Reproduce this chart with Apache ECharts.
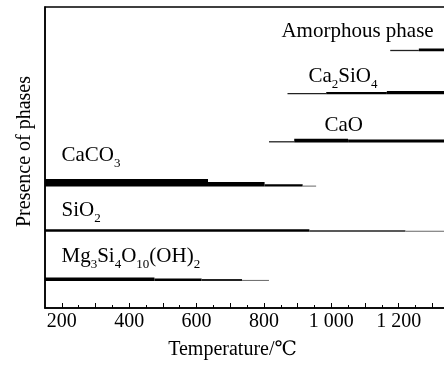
<!DOCTYPE html>
<html>
<head>
<meta charset="utf-8">
<script src="https://cdn.jsdelivr.net/npm/echarts@6/dist/echarts.min.js"></script>
<style>html,body{margin:0;padding:0;background:#fff}#c{width:444px;height:365px}</style>
</head>
<body>
<div id="c"></div>
<script>
// ---- data ----
const phases = ['Amorphous phase', 'Ca2SiO4', 'CaO', 'CaCO3', 'SiO2', 'Mg3Si4O10(OH)2'];
const phaseLabels = ['Amorphous phase', 'Ca{s|2}SiO{s|4}', 'CaO', 'CaCO{s|3}', 'SiO{s|2}', 'Mg{s|3}Si{s|4}O{s|10}(OH){s|2}'];
const rowLevel = [25.6, 21.3, 16.5, 12.1, 7.6, 2.7];
// segments: [start °C, end °C, relative amount]
const amorphousSeg = [[1175, 1260, 1.3], [1260, 1400, 2.6]];
const ca2sio4Seg = [[870, 985, 1.2], [985, 1165, 2.2], [1165, 1400, 3.2]];
const caoSeg = [[815, 890, 1.3], [890, 1050, 3.6], [1050, 1400, 3.0]];
const caco3Seg = [[150, 634, 7.6], [634, 802, 4.5], [802, 915, 2.4], [915, 955, 1.0]];
const sio2Seg = [[150, 935, 2.6], [935, 1220, 1.6], [1220, 1400, 1.0]];
const talcSeg = [[150, 475, 3.3], [475, 615, 2.4], [615, 735, 1.8], [735, 815, 1.0]];
const segments = [amorphousSeg, ca2sio4Seg, caoSeg, caco3Seg, sio2Seg, talcSeg];
const labelAnchorT = [852, 932, 980, 199, 199, 199];
const labelAnchorLevel = [27.6, 23.1, 18.2, 15.2, 9.7, 5.1];
const majorTicks = [200, 300, 400, 500, 600, 700, 800, 900, 1000, 1100, 1200, 1300, 1400];
const minorTicks = [250, 350, 450, 550, 650, 750, 850, 950, 1050, 1150, 1250, 1350];
const tickLabels = [200, 400, 600, 800, 1000, 1200, 1400];

const FONT = "'Liberation Serif','Times New Roman','DejaVu Serif','Noto Sans CJK SC',serif";

const barData = [];
segments.forEach((segs, i) => segs.forEach(s => barData.push([s[0], s[1], rowLevel[i], s[2]])));
const labelData = phases.map((p, i) => [labelAnchorT[i], labelAnchorLevel[i], i]);

const chart = echarts.init(document.getElementById('c'), null, {renderer: 'canvas'});
chart.setOption({
  animation: false,
  backgroundColor: '#fff',
  grid: {left: 45, right: -22, top: 7, bottom: 57, show: true, borderColor: '#000', borderWidth: 1.5,
    containLabel: false, outerBoundsMode: 'none'},
  xAxis: [{
    type: 'value', min: 150, max: 1400, interval: 50, position: 'bottom',
    axisLine: {show: true, lineStyle: {color: '#000', width: 1.5}},
    axisTick: {show: true, inside: true, length: 5, customValues: majorTicks, lineStyle: {color: '#000', width: 1}},
    axisLabel: {show: true, customValues: tickLabels, margin: 4, color: '#000', fontFamily: FONT, fontSize: 20,
      formatter: v => (v % 200 !== 0) ? '' : (v >= 1000 ? Math.floor(v / 1000) + ' ' + String(v % 1000).padStart(3, '0') : String(v))},
    splitLine: {show: false},
    name: 'Temperature/℃', nameLocation: 'middle', nameGap: 32,
    nameTextStyle: {color: '#000', fontFamily: FONT, fontSize: 20, padding: [0, 46, 0, 0]}
  }, {
    type: 'value', min: 150, max: 1400, interval: 50, position: 'bottom',
    axisLine: {show: false},
    axisTick: {show: true, inside: true, length: 3, customValues: minorTicks, lineStyle: {color: '#000', width: 1}},
    axisLabel: {show: false}, splitLine: {show: false}
  }],
  yAxis: {
    type: 'value', min: 0, max: 30,
    axisLine: {show: true, lineStyle: {color: '#000', width: 1.5}},
    axisTick: {show: false}, axisLabel: {show: false}, splitLine: {show: false},
    name: 'Presence of phases', nameLocation: 'middle', nameGap: 10,
    nameTextStyle: {color: '#000', fontFamily: FONT, fontSize: 20, padding: [0, 0, 0, 12]}
  },
  series: [{
    type: 'custom', xAxisIndex: 0, yAxisIndex: 0,
    data: barData,
    encode: {x: [0, 1], y: 2},
    renderItem: function (params, api) {
      const p0 = api.coord([api.value(0), api.value(2)]);
      const p1 = api.coord([api.value(1), api.value(2)]);
      const amt = api.value(3);
      const h = amt;
      return {
        type: 'rect',
        shape: {x: p0[0], y: p0[1] - h, width: p1[0] - p0[0], height: h},
        style: {fill: amt <= 1.0 ? '#666' : (amt < 2 ? '#222' : '#000')}
      };
    }
  }, {
    type: 'custom', xAxisIndex: 0, yAxisIndex: 0,
    data: labelData,
    encode: {x: 0, y: 1},
    renderItem: function (params, api) {
      const p = api.coord([api.value(0), api.value(1)]);
      const idx = api.value(2);
      return {
        type: 'text', x: p[0], y: p[1],
        style: {
          text: phaseLabels[idx], fill: '#000', fontFamily: FONT, fontSize: 21,
          align: 'left', verticalAlign: 'middle',
          rich: {s: {fontFamily: FONT, fontSize: 13, lineHeight: 13, verticalAlign: 'bottom', fill: '#000', padding: [0, 0, -4, 0]}}
        }
      };
    }
  }]
});
</script>
</body>
</html>
